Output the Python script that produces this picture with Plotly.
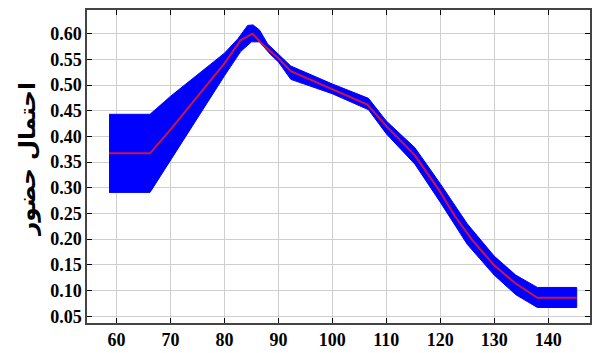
import plotly.graph_objects as go

# Central curve (red)
center_x = [58.6, 66.2, 70, 75, 80, 83, 85.2, 87, 90, 92.3, 100, 106.5, 110, 115.3, 120, 122.7, 125.8, 130, 133.8, 138, 145.3]
center_y = [0.367, 0.367, 0.413, 0.478, 0.542, 0.587, 0.600, 0.580, 0.552, 0.527, 0.492, 0.462, 0.420, 0.363, 0.292, 0.245, 0.200, 0.149, 0.115, 0.086, 0.086]

# Upper edge of the band
upper_x = [58.6, 66.2, 70, 75, 77.5, 80, 82.5, 84.3, 85.3, 86.5, 88, 90, 92.3, 100, 106.7, 110, 115.3, 120, 125, 130, 134, 138, 145.3]
upper_y = [0.443, 0.443, 0.478, 0.520, 0.541, 0.562, 0.590, 0.616, 0.617, 0.607, 0.580, 0.560, 0.537, 0.502, 0.474, 0.430, 0.378, 0.308, 0.230, 0.167, 0.130, 0.106, 0.106]

# Lower edge of the band
lower_x = [58.6, 66.2, 70, 75, 80, 83, 85, 86.5, 88.5, 90, 92.3, 100, 106.7, 110, 115.3, 120, 125, 130, 134, 138, 145.3]
lower_y = [0.291, 0.291, 0.354, 0.436, 0.518, 0.565, 0.584, 0.584, 0.560, 0.545, 0.511, 0.483, 0.452, 0.405, 0.346, 0.272, 0.190, 0.130, 0.092, 0.067, 0.067]

x_ticks = [60, 70, 80, 90, 100, 110, 120, 130, 140]
y_ticks = [0.05, 0.10, 0.15, 0.20, 0.25, 0.30, 0.35, 0.40, 0.45, 0.50, 0.55, 0.60]
y_title = "احتمال حضور"

fig = go.Figure()
fig.add_trace(go.Scatter(
    x=upper_x + lower_x[::-1],
    y=upper_y + lower_y[::-1],
    fill="toself", fillcolor="#0000FF",
    line=dict(color="#0000FF", width=1),
    mode="lines", hoverinfo="skip", showlegend=False,
))
fig.add_trace(go.Scatter(
    x=center_x, y=center_y, mode="lines",
    line=dict(color="#cc1446", width=2),
    showlegend=False,
))

tick_font = dict(family="Liberation Serif", size=18, color="black", weight="bold")
fig.update_xaxes(
    range=[54.52, 147.76], tickvals=x_ticks, ticktext=[str(v) for v in x_ticks],
    showgrid=True, gridcolor="#cfcfcf", gridwidth=1,
    showline=True, linecolor="#444444", linewidth=1.5, mirror="ticks",
    ticks="inside", ticklen=5, tickcolor="black", tickwidth=1,
    tickfont=tick_font, zeroline=False, ticklabelstandoff=0,
)
fig.update_yaxes(
    range=[0.0368, 0.646], tickvals=y_ticks, ticktext=[f"{v:.2f}" for v in y_ticks],
    showgrid=True, gridcolor="#cfcfcf", gridwidth=1,
    showline=True, linecolor="#444444", linewidth=1.5, mirror="ticks",
    ticks="inside", ticklen=5, tickcolor="black", tickwidth=1,
    tickfont=tick_font, zeroline=False,
)
fig.add_annotation(
    text=y_title, textangle=-90, showarrow=False,
    xref="paper", yref="paper", x=(27 - 87) / 505, y=(332 - 163) / 322,
    xanchor="center", yanchor="middle",
    font=dict(family="DejaVu Sans", size=23, color="black", weight="bold"),
)
fig.update_layout(
    width=595, height=353,
    margin=dict(l=87, r=3, t=10, b=21),
    plot_bgcolor="white", paper_bgcolor="white",
)
fig.write_html("out.html")
